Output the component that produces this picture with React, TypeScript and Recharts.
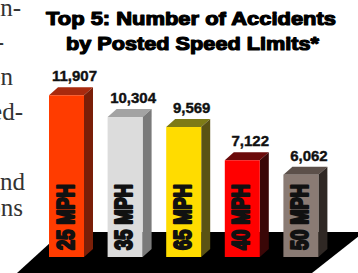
import { BarChart, Bar, XAxis, YAxis, LabelList } from 'recharts';

const speedLimits = ['25 MPH', '35 MPH', '65 MPH', '40 MPH', '50 MPH'];
const accidents = [11907, 10304, 9569, 7122, 6062];
const frontColors = ['#FF3C00', '#DCDCDC', '#FFDC00', '#FF0000', '#8A7B74'];
const topColors = ['#A82A0E', '#A3A3A3', '#7E7A16', '#6B0A0A', '#5C504A'];
const sideColors = ['#7A1F08', '#7A7A7A', '#5A5214', '#3A0707', '#2F2824'];

// cropped body copy on the left of the page
const sideText = [
  { text: 'commun-', x: 21, y: 16 },
  { text: 'areas-', x: 4, y: 50 },
  { text: 'when', x: 13, y: 85 },
  { text: 'posted-', x: 23, y: 120 },
  { text: 'and', x: 25, y: 190 },
  { text: 'conditions', x: 23, y: 216 },
];

const titleLines = ['Top 5: Number of Accidents', 'by Posted Speed Limits*'];

const data = speedLimits.map((name, i) => ({
  name,
  value: accidents[i],
  front: frontColors[i],
  top: topColors[i],
  side: sideColors[i],
}));

const DX = 9;
const DY = 8;

const Bar3D = (props: any) => {
  const { x, y, width, height, payload } = props;
  const b = y + height;
  const r = x + width;
  const bx = x + width / 2 + 7;
  const by = b - 7;
  return (
    <g>
      <polygon points={`${x},${y} ${x + DX},${y - DY} ${r + DX},${y - DY} ${r},${y}`} fill={payload.top} />
      <polygon points={`${r},${y} ${r + DX},${y - DY} ${r + DX},${b - DY} ${r},${b}`} fill={payload.side} />
      <rect x={x} y={y} width={width} height={height} fill={payload.front} />
      <text
        x={bx}
        y={by}
        transform={`rotate(-90, ${bx}, ${by})`}
        fontFamily="Liberation Sans, Arial, sans-serif"
        fontWeight={700}
        fontSize={23}
        fill="#111"
        stroke="#111"
        strokeWidth={2.2}
        strokeLinejoin="round"
        textLength={66}
        lengthAdjust="spacingAndGlyphs"
      >
        {payload.name}
      </text>
    </g>
  );
};

const ValueLabel = (props: any) => {
  const { x, y, width, value } = props;
  return (
    <text
      x={x + width / 2 + 8}
      y={y - DY - 6}
      textAnchor="middle"
      fontFamily="Liberation Sans, Arial, sans-serif"
      fontWeight={700}
      fontSize={15}
      fill="#111"
      stroke="#111"
      strokeWidth={0.4}
    >
      {Number(value).toLocaleString('en-US')}
    </text>
  );
};

export default function App() {
  return (
    <div style={{ position: 'absolute', left: 0, top: 0, width: 358, height: 273, overflow: 'hidden', background: '#fff' }}>
      <svg width={358} height={273} style={{ position: 'absolute', left: 0, top: 0 }}>
        {sideText.map((t) => (
          <text key={t.text} x={t.x} y={t.y} textAnchor="end" fontFamily="Liberation Serif, serif" fontSize={25} fill="#333">
            {t.text}
          </text>
        ))}
        <polygon points="62,232 364,232 312,273 17,273" fill="#000" />
        <text x={191} y={25} textAnchor="middle" fontFamily="Liberation Sans, Arial, sans-serif" fontWeight={700} fontSize={19}
          fill="#000" stroke="#000" strokeWidth={1.2} strokeLinejoin="round" textLength={290} lengthAdjust="spacingAndGlyphs">
          {titleLines[0]}
        </text>
        <text x={192.5} y={50} textAnchor="middle" fontFamily="Liberation Sans, Arial, sans-serif" fontWeight={700} fontSize={19}
          fill="#000" stroke="#000" strokeWidth={1.2} strokeLinejoin="round" textLength={253} lengthAdjust="spacingAndGlyphs">
          {titleLines[1]}
        </text>
      </svg>
      <div style={{ position: 'absolute', left: 0, top: 0 }}>
        <BarChart width={358} height={273} data={data} margin={{ top: 94, right: 28, left: 37, bottom: 16 }}>
          <XAxis dataKey="name" hide />
          <YAxis hide domain={[0, 12000]} />
          <Bar dataKey="value" barSize={35} shape={Bar3D} isAnimationActive={false}>
            <LabelList dataKey="value" content={ValueLabel} />
          </Bar>
        </BarChart>
      </div>
    </div>
  );
}
